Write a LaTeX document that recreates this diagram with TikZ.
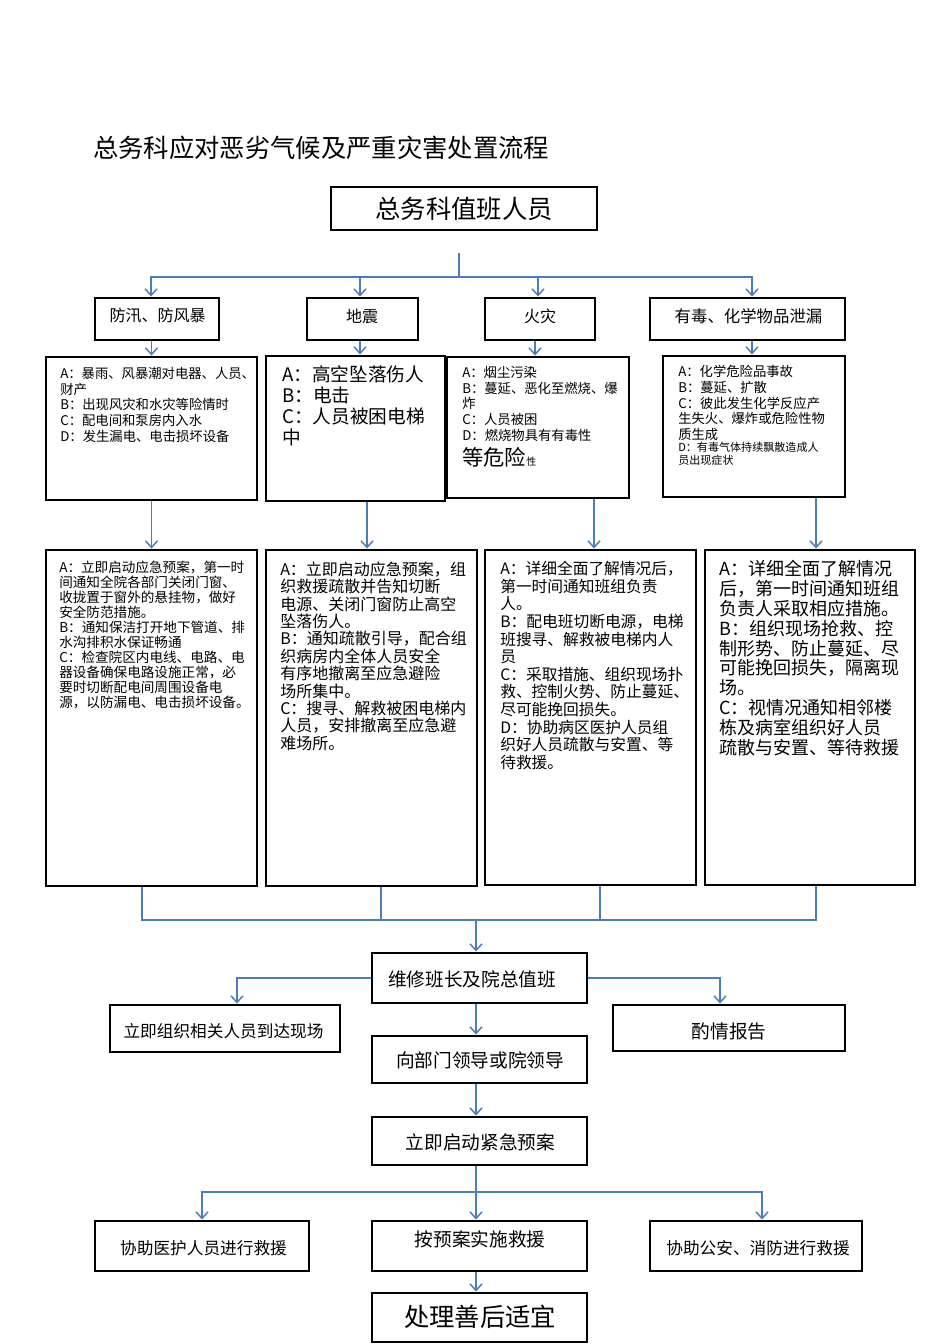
\documentclass[tikz,border=0pt]{standalone}
\usepackage{fontspec}
\setmainfont{Noto Sans CJK SC}
\usetikzlibrary{arrows.meta,fit,calc}
\definecolor{linkblue}{RGB}{74,126,187}
\newcommand{\fs}[2]{\fontsize{#1}{#2}\selectfont}
\tikzset{
  box/.style={draw=black, line width=2.2pt, inner sep=0pt, fill=white},
  conn/.style={draw=linkblue, line width=0.8pt},
  arr/.style={conn, -{Straight Barb[length=5pt,width=9pt,line width=1.1pt]}},
  txt/.style={inner sep=0pt, align=left, anchor=north west},
  ctxt/.style={inner sep=0pt, align=center},
}
\begin{document}
\begin{tikzpicture}[x=0.75pt,y=-0.75pt]
\useasboundingbox (0,0) rectangle (950,1344);

% title
\node[ctxt, anchor=west, font=\fs{19}{22}] (title) at (93,148) {总务科应对恶劣气候及严重灾害处置流程};

% top box
\node[box, fit={(331,187) (597,230)}] (duty) {};
\node[ctxt, font=\fs{19}{22}] (dutyt) at (464,209) {总务科值班人员};

% category boxes
\node[box, fit={(95,298) (219,340)}] (c1) {};
\node[box, fit={(307,298) (418,340)}] (c2) {};
\node[box, fit={(485,298) (595,340)}] (c3) {};
\node[box, fit={(650,298) (845,340)}] (c4) {};
\node[ctxt, font=\fs{12}{14}] (c1t) at (157.5,316) {防汛、防风暴};
\node[ctxt, font=\fs{12}{14}] (c2t) at (362,316) {地震};
\node[ctxt, font=\fs{12}{14}] (c3t) at (540,316) {火灾};
\node[ctxt, font=\fs{12.3}{14}] (c4t) at (748.5,316) {有毒、化学物品泄漏};

% A-D boxes
\node[box, fit={(46,357) (257,500)}] (ad1) {};
\node[box, fit={(266,356) (445,501)}] (ad2) {};
\node[box, fit={(447,357) (629,498)}] (ad3) {};
\node[box, fit={(663,356) (845,497)}] (ad4) {};

\node[txt, font=\fs{10}{11.8}] (ad1t) at (60,367) {A：暴雨、风暴潮对电器、人员、\\财产\\B：出现风灾和水灾等险情时\\C：配电间和泵房内入水\\D：发生漏电、电击损坏设备};
\node[txt, font=\fs{14}{15.75}] (ad2t) at (282,365.5) {A：高空坠落伤人\\B：电击\\C：人员被困电梯\\中};
\node[txt, font=\fs{10}{11.8}] (ad3t) at (462,366) {A：烟尘污染\\B：蔓延、恶化至燃烧、爆\\炸\\C：人员被困\\D：燃烧物具有有毒性};
\node[txt, anchor=base west, font=\fs{16}{18}] (ad3x) at (462,465) {等危险{\fs{7.5}{9}性}};
\node[txt, font=\fs{10}{11.8}] (ad4t) at (678,365) {A：化学危险品事故\\B：蔓延、扩散\\C：彼此发生化学反应产\\生失火、爆炸或危险性物\\质生成};
\node[txt, font=\fs{8.3}{9.75}] (ad4d) at (678,442) {D：有毒气体持续飘散造成人\\员出现症状};

% big boxes
\node[box, fit={(46,550) (257,886)}] (big1) {};
\node[box, fit={(266,550) (477,886)}] (big2) {};
\node[box, fit={(485,550) (696,885)}] (big3) {};
\node[box, fit={(705,550) (915,885)}] (big4) {};

\node[txt, font=\fs{10.2}{11.25}] (big1t) at (59,561) {A：立即启动应急预案，第一时\\间通知全院各部门关闭门窗、\\收拢置于窗外的悬挂物，做好\\安全防范措施。\\B：通知保洁打开地下管道、排\\水沟排积水保证畅通\\C：检查院区内电线、电路、电\\器设备确保电路设施正常，必\\要时切断配电间周围设备电\\源，以防漏电、电击损坏设备。};
\node[txt, font=\fs{12}{13.05}] (big2t) at (280,561.5) {A：立即启动应急预案，组\\织救援疏散并告知切断\\电源、关闭门窗防止高空\\坠落伤人。\\B：通知疏散引导，配合组\\织病房内全体人员安全\\有序地撤离至应急避险\\场所集中。\\C：搜寻、解救被困电梯内\\人员，安排撤离至应急避\\难场所。};
\node[txt, font=\fs{11.8}{13.2}] (big3t) at (500,561) {A：详细全面了解情况后，\\第一时间通知班组负责\\人。\\B：配电班切断电源，电梯\\班搜寻、解救被电梯内人\\员\\C：采取措施、组织现场扑\\救、控制火势、防止蔓延、\\尽可能挽回损失。\\D：协助病区医护人员组\\织好人员疏散与安置、等\\待救援。};
\node[txt, font=\fs{13.5}{14.9}] (big4t) at (719,560) {A：详细全面了解情况\\后，第一时间通知班组\\负责人采取相应措施。\\B：组织现场抢救、控\\制形势、防止蔓延、尽\\可能挽回损失，隔离现\\场。\\C：视情况通知相邻楼\\栋及病室组织好人员\\疏散与安置、等待救援};

% lower boxes
\node[box, fit={(372,953) (587,1003)}] (wx) {};
\node[ctxt, font=\fs{14}{16}] (wxt) at (472,979) {维修班长及院总值班};
\node[box, fit={(110,1005) (340,1052)}] (lz) {};
\node[ctxt, font=\fs{12.5}{14}] (lzt) at (223.5,1031) {立即组织相关人员到达现场};
\node[box, fit={(613,1005) (845,1051)}] (zq) {};
\node[ctxt, font=\fs{14}{16}] (zqt) at (729,1031) {酌情报告};
\node[box, fit={(372,1036) (587,1083)}] (xb) {};
\node[ctxt, font=\fs{14}{16}] (xbt) at (480,1060) {向部门领导或院领导};
\node[box, fit={(372,1117) (587,1165)}] (qd) {};
\node[ctxt, font=\fs{14}{16}] (qdt) at (480.5,1142) {立即启动紧急预案};
\node[box, fit={(95,1221) (309,1271)}] (xh) {};
\node[ctxt, font=\fs{12.5}{14}] (xht) at (203.5,1248) {协助医护人员进行救援};
\node[box, fit={(372,1221) (587,1271)}] (ay) {};
\node[ctxt, font=\fs{14}{16}] (ayt) at (480,1239) {按预案实施救援};
\node[box, fit={(650,1221) (862,1271)}] (ga) {};
\node[ctxt, font=\fs{12.5}{14}] (gat) at (758,1248) {协助公安、消防进行救援};
\node[box, fit={(372,1293) (587,1342)}] (cl) {};
\node[ctxt, font=\fs{19}{22}] (clt) at (480,1317) {处理善后适宜};

% connectors: top
\coordinate (tstub) at (459,253);
\coordinate (tbus) at (459,277);
\draw[conn] (tstub) -- (tbus);
\draw[arr] (tbus) -| ($(c1.north)+(-6,0)$);
\draw[arr] (tbus) -| ($(c2.north)+(-2.5,0)$);
\draw[arr] (tbus) -| ($(c3.north)+(-2,0)$);
\draw[arr] (tbus) -| ($(c4.north)+(4.5,0)$);

% category -> A-D
\draw[arr] (c1.south -| ad1.north) -- (ad1.north);
\draw[arr] ($(c2.south -| ad2.north)+(4.5,0)$) -- ($(ad2.north)+(4.5,0)$);
\draw[arr] ($(c3.south -| ad3.north)+(-3,0)$) -- ($(ad3.north)+(-3,0)$);
\draw[arr] ($(c4.south -| ad4.north)+(-2,0)$) -- ($(ad4.north)+(-2,0)$);

% A-D -> big
\draw[arr] (ad1.south -| big1.north) -- (big1.north);
\draw[arr] ($(ad2.south -| big2.north)+(-4.5,0)$) -- ($(big2.north)+(-4.5,0)$);
\draw[arr] ($(ad3.south -| big3.north)+(3.5,0)$) -- ($(big3.north)+(3.5,0)$);
\draw[arr] ($(ad4.south -| big4.north)+(6,0)$) -- ($(big4.north)+(6,0)$);

% big -> merge
\coordinate (mbus) at (476,920);
\draw[conn] ($(big1.south)+(-9.5,0)$) |- (mbus);
\draw[conn] ($(big2.south)+(9.5,0)$) |- (mbus);
\draw[conn] ($(big3.south)+(9.5,0)$) |- (mbus);
\draw[conn] ($(big4.south)+(6,0)$) |- (mbus);
\draw[arr] (mbus) -- (mbus |- wx.north);

% wx branches
\draw[arr] (wx.west) -| ($(lz.north)+(12,0)$);
\draw[arr] (wx.east) -| ($(zq.north)+(-9,0)$);
\draw[arr] (wx.south -| mbus) -- (xb.north -| mbus);
\draw[arr] (xb.south -| mbus) -- (qd.north -| mbus);
\draw[arr] (qd.south -| mbus) -- (ay.north -| mbus);
\coordinate (lbus) at (476,1192);
\draw[arr] (lbus) -| (xh.north);
\draw[arr] (lbus) -| ($(ga.north)+(6,0)$);
\draw[arr] (ay.south -| mbus) -- (cl.north -| mbus);
\end{tikzpicture}
\end{document}
